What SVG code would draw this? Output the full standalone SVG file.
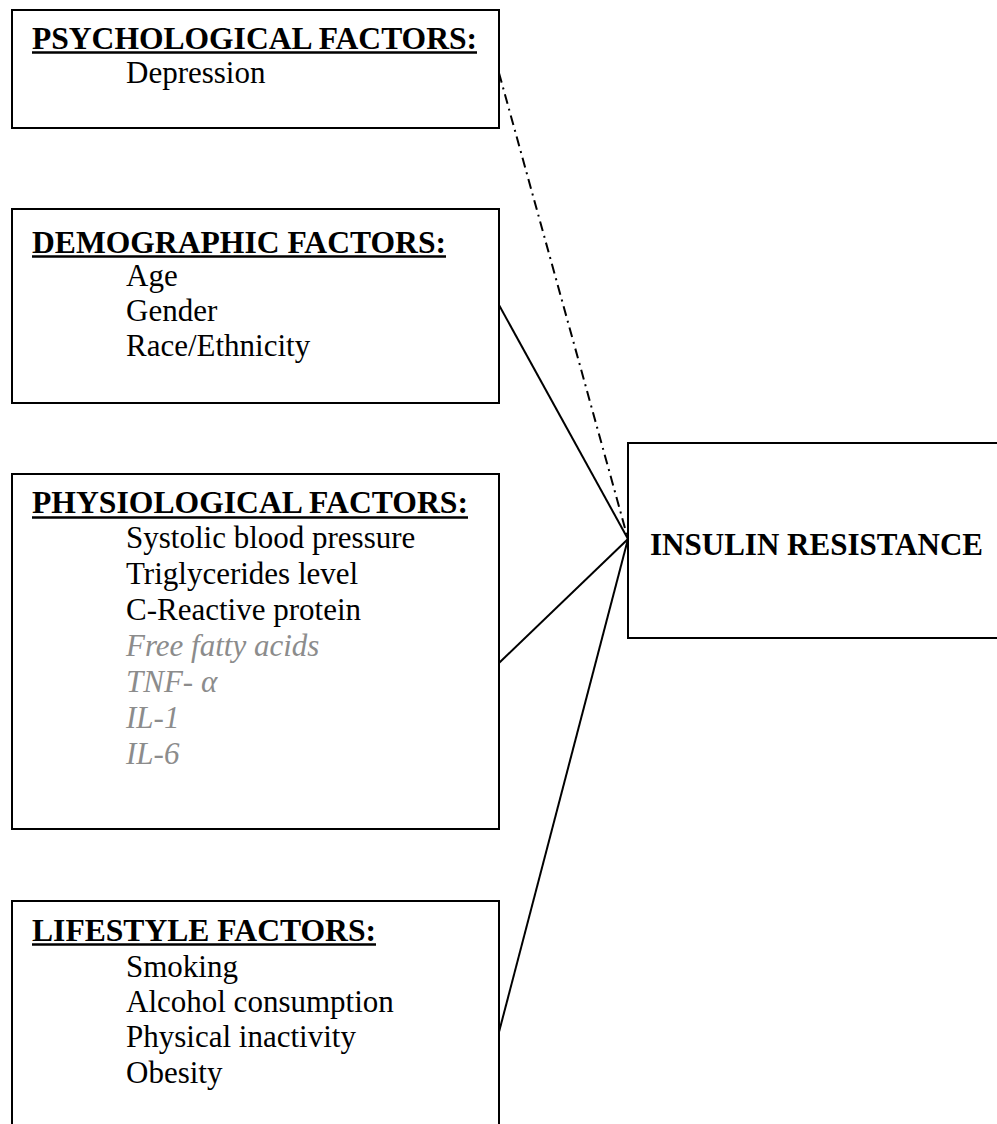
<svg xmlns="http://www.w3.org/2000/svg" width="997" height="1124" viewBox="0 0 997 1124">
<style>
  .box { fill: #fff; stroke: #000; stroke-width: 2; }
  .title { font-family: "Liberation Serif", "Times New Roman", serif; font-size: 31.5px; font-weight: bold; fill: #000; }
  .item { font-family: "Liberation Serif", "Times New Roman", serif; font-size: 31px; fill: #000; }
  .grey { font-style: italic; fill: #8c8c8c; }
  .ul { stroke: #000; stroke-width: 2.5; }
  .conn { stroke: #000; stroke-width: 2; fill: none; }
</style>
<rect x="0" y="0" width="997" height="1124" fill="#fff"/>
<g id="connectors">
  <line class="conn" x1="499" y1="73" x2="628" y2="539" stroke-dasharray="10 5 2 5"/>
  <line class="conn" x1="499" y1="305" x2="628" y2="539"/>
  <line class="conn" x1="499" y1="663" x2="628" y2="539"/>
  <line class="conn" x1="499" y1="1032" x2="628" y2="539"/>
</g>
<g id="psychological">
  <rect class="box" x="12" y="10" width="487" height="118"/>
  <text class="title" x="32" y="49" textLength="445" lengthAdjust="spacingAndGlyphs">PSYCHOLOGICAL FACTORS:</text>
  <line class="ul" x1="32" y1="52.5" x2="477" y2="52.5"/>
  <text class="item" x="126" y="83">Depression</text>
</g>
<g id="demographic">
  <rect class="box" x="12" y="209" width="487" height="194"/>
  <text class="title" x="32" y="253" textLength="414" lengthAdjust="spacingAndGlyphs">DEMOGRAPHIC FACTORS:</text>
  <line class="ul" x1="32" y1="256.5" x2="446" y2="256.5"/>
  <text class="item" x="126" y="286">Age</text>
  <text class="item" x="126" y="321">Gender</text>
  <text class="item" x="126" y="356">Race/Ethnicity</text>
</g>
<g id="physiological">
  <rect class="box" x="12" y="474" width="487" height="355"/>
  <text class="title" x="32" y="513" textLength="436" lengthAdjust="spacingAndGlyphs">PHYSIOLOGICAL FACTORS:</text>
  <line class="ul" x1="32" y1="517.5" x2="468" y2="517.5"/>
  <text class="item" x="126" y="548">Systolic blood pressure</text>
  <text class="item" x="126" y="584">Triglycerides level</text>
  <text class="item" x="126" y="620">C-Reactive protein</text>
  <text class="item grey" x="126" y="656">Free fatty acids</text>
  <text class="item grey" x="126" y="692">TNF- α</text>
  <text class="item grey" x="126" y="728">IL-1</text>
  <text class="item grey" x="126" y="764">IL-6</text>
</g>
<g id="lifestyle">
  <rect class="box" x="12" y="901" width="487" height="240"/>
  <text class="title" x="32" y="941" textLength="344" lengthAdjust="spacingAndGlyphs">LIFESTYLE FACTORS:</text>
  <line class="ul" x1="32" y1="944.5" x2="376" y2="944.5"/>
  <text class="item" x="126" y="977">Smoking</text>
  <text class="item" x="126" y="1012">Alcohol consumption</text>
  <text class="item" x="126" y="1047">Physical inactivity</text>
  <text class="item" x="126" y="1083">Obesity</text>
</g>
<g id="insulin-resistance">
  <rect class="box" x="628" y="443" width="380" height="195"/>
  <text class="title" x="650" y="555" textLength="333" lengthAdjust="spacingAndGlyphs">INSULIN RESISTANCE</text>
</g>
</svg>
